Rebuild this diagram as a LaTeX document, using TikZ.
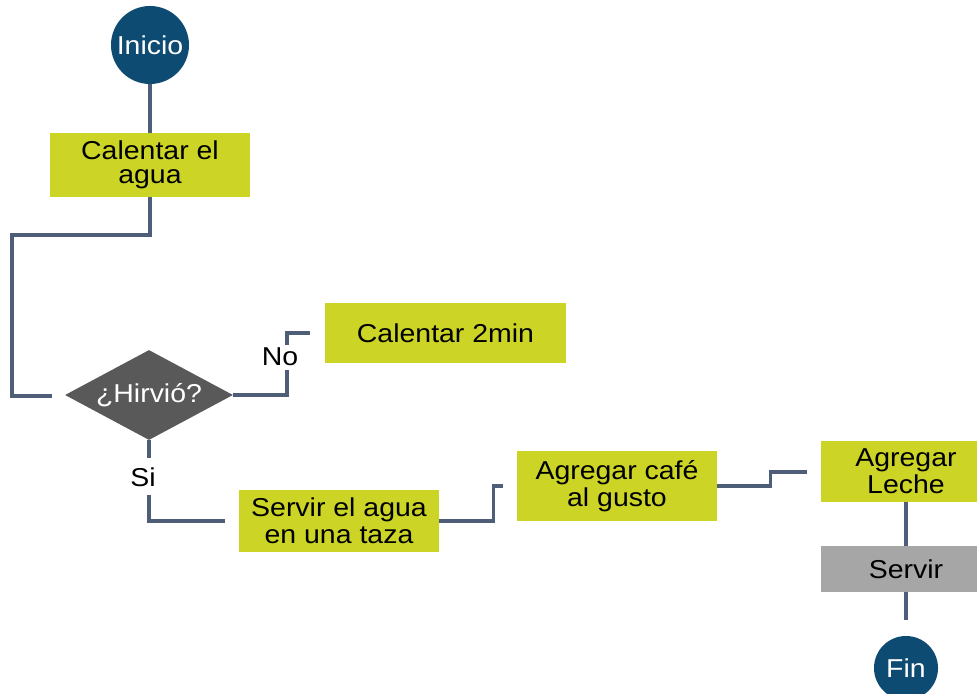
\documentclass[tikz,border=0pt]{standalone}
\usepackage{fontspec}
\setmainfont{Liberation Sans}[FakeStretch=1.1]
\usetikzlibrary{shapes.geometric,calc}
\definecolor{lima}{RGB}{204,212,38}
\definecolor{azul}{RGB}{14,75,115}
\definecolor{gris}{RGB}{89,89,89}
\definecolor{grisclaro}{RGB}{166,166,166}
\definecolor{linea}{RGB}{78,94,120}

\begin{document}
\begin{tikzpicture}[x=0.025cm,y=-0.025cm,
  font=\fontsize{18.4}{19.5}\selectfont,
  caja/.style={fill=lima,inner sep=0pt,align=center},
  term/.style={circle,fill=azul,text=white,inner sep=0pt},
  decision/.style={diamond,aspect=1.87,fill=gris,text=white,inner sep=0pt,
    minimum width=4.2cm,minimum height=2.25cm},
  linea/.style={draw=linea,line width=2.4pt}]
\useasboundingbox (0,0) rectangle (977,694);

\node [term,minimum size=1.95cm] (inicio) at (150,45) {Inicio};
\node [caja,minimum width=5cm,minimum height=1.6cm,
  font=\fontsize{18.4}{17.5}\selectfont] (calagua) at (150,165) {Calentar el\\agua};
\node [decision] (hirvio) at (149,395) {¿Hirvió?};
\node [caja,minimum width=6.025cm,minimum height=1.5cm] (cal2) at (445.5,333) {Calentar 2min};
\node [caja,minimum width=5cm,minimum height=1.525cm] (servir) at (339,521) {Servir el agua\\en una taza};
\node [caja,minimum width=5cm,minimum height=1.75cm] (cafe) at (617,486) {Agregar café\\al gusto};
\node [caja,minimum width=4.25cm,minimum height=1.525cm] (leche) at (906,471.5) {Agregar\\Leche};
\node [caja,fill=grisclaro,minimum width=4.25cm,minimum height=1.15cm] (servirfin) at (906,569) {Servir};
\node [term,minimum size=1.6cm] (fin) at (906,668) {Fin};

\node (no) at (280,357) {No};
\node (si) at (143,477) {Si};

\coordinate (vuelta) at (12,235);
\coordinate (regreso) at (52,396);
\coordinate (noA) at (287,370);
\coordinate (noB) at (287,345);
\coordinate (noC) at (310,333);
\coordinate (siA) at (149,458);
\coordinate (siB) at (149,495);
\coordinate (siC) at (225,521);
\coordinate (cafeIn) at (503,486);
\coordinate (lecheIn) at (807,472);
\coordinate (finIn) at (906,620);

\draw [linea] (inicio) -- (calagua);
\draw [linea] (calagua) |- (vuelta) |- (regreso);
\draw [linea] (hirvio) -| (noA);
\draw [linea] (noB) |- (noC);
\draw [linea] (hirvio) -- (siA);
\draw [linea] (siB) |- (siC);
\draw [linea] (servir.east) -- ++(54,0) |- (cafeIn);
\draw [linea] (cafe.east) -- ++(53,0) |- (lecheIn);
\draw [linea] (leche) -- (servirfin);
\draw [linea] (servirfin) -- (finIn);
\end{tikzpicture}
\end{document}
